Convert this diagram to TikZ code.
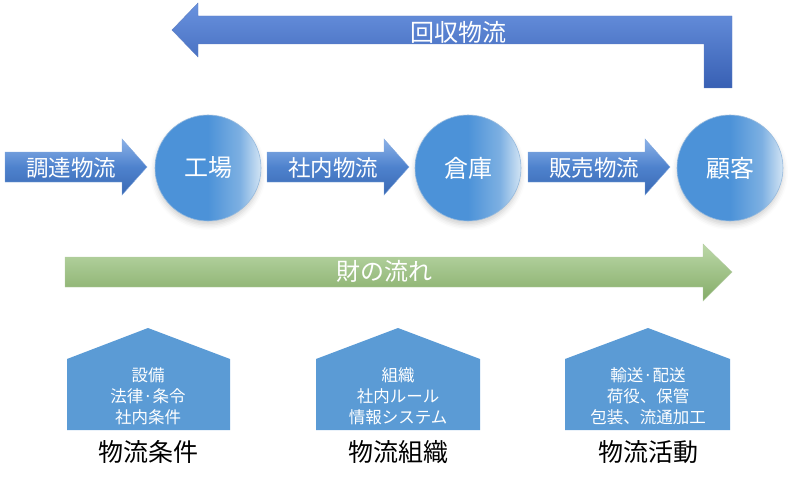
\documentclass[tikz,border=0pt]{standalone}
\usepackage{fontspec}
\setmainfont{Noto Sans CJK JP}
\usetikzlibrary{shadows.blur}
\definecolor{cA}{RGB}{76,146,216}
\definecolor{cB}{RGB}{125,176,226}
\definecolor{cC}{RGB}{210,228,244}
\definecolor{cEdge}{RGB}{150,186,222}
\definecolor{aTop}{RGB}{140,178,232}
\definecolor{aMid}{RGB}{78,130,205}
\definecolor{aBot}{RGB}{58,105,180}
\definecolor{rTop}{RGB}{105,146,222}
\definecolor{rBot}{RGB}{56,96,180}
\definecolor{gTop}{RGB}{188,216,168}
\definecolor{gBot}{RGB}{132,172,104}
\definecolor{house}{RGB}{91,155,213}
\pgfdeclarehorizontalshading{circshade}{100bp}{color(0bp)=(cA); color(25bp)=(cA); color(50bp)=(cA); color(65bp)=(cB); color(75bp)=(cC); color(100bp)=(cC)}
\begin{document}
\begin{tikzpicture}[x=1pt,y=-1pt,
  circ/.style={circle, minimum size=106pt, inner sep=0pt, draw=cEdge, line width=0.6pt,
    shading=circshade, text=white, font=\fontsize{24}{27}\selectfont,
    blur shadow={shadow xshift=0pt, shadow yshift=-4pt, shadow blur radius=5pt, shadow opacity=18}},
  sarrow/.style={top color=aTop, bottom color=aBot, middle color=aMid, draw=aMid!70!white, line width=0.4pt},
  atext/.style={text=white, font=\fontsize{22.5}{25}\selectfont, inner sep=0pt},
  rarrow/.style={top color=rTop, bottom color=rBot, draw=rBot!80!white, line width=0.4pt},
  garrow/.style={top color=gTop, bottom color=gBot, draw=gBot!60!white, line width=0.4pt},
  bigtext/.style={text=white, font=\fontsize{24}{27}\selectfont, inner sep=0pt},
  housebox/.style={fill=house, draw=none},
  housetext/.style={text=white, font=\fontsize{16.5}{21}\selectfont, align=center, inner sep=0pt},
  label/.style={text=black, font=\fontsize{25}{28}\selectfont, inner sep=0pt}]
\useasboundingbox (0,0) rectangle (800,484);
\newcommand\smallarrow[3]{%
  \draw[sarrow] (#1,152) -- ++(117,0) -- ++(0,-13) -- ++(25,28) -- ++(-25,28) -- ++(0,-13) -- ++(-117,0) -- cycle;
  \node[atext] (#2) at (#1+66,168) {#3};}
% return flow arrow
\draw[rarrow] (172,30) -- (198,3) -- (198,16) -- (732,16) -- (732,88) -- (704,88) -- (704,44) -- (198,44) -- (198,57) -- cycle;
\node[bigtext] (kaishu) at (458,32) {回収物流};
% circles
\node[circ] (kojo) at (208,168) {工場};
\node[circ] (soko) at (468,168) {倉庫};
\node[circ] (kokyaku) at (730,168) {顧客};
% small arrows
\smallarrow{5}{chotatsu}{調達物流}
\smallarrow{267}{shanai}{社内物流}
\smallarrow{528}{hanbai}{販売物流}
% green flow
\draw[garrow] (65,257) -- (703,257) -- (703,244) -- (732,272) -- (703,301) -- (703,287) -- (65,287) -- cycle;
\node[bigtext] (zai) at (384,271) {財の流れ};
% houses
\fill[housebox] (67,430) -- (67,359) -- (148,328) -- (230,359) -- (230,430) -- cycle;
\fill[housebox] (316,430) -- (316,359) -- (398,328) -- (480,359) -- (480,430) -- cycle;
\fill[housebox] (565,430) -- (565,359) -- (648,328) -- (730,359) -- (730,430) -- cycle;
\node[housetext] (h1) at (148,396) {設備\\法律·条令\\社内条件};
\node[housetext] (h2) at (398,396) {組織\\社内ルール\\情報システム};
\node[housetext] (h3) at (648,396) {輸送·配送\\荷役、保管\\包装、流通加工};
\node[label] (l1) at (148,452) {物流条件};
\node[label] (l2) at (398,452) {物流組織};
\node[label] (l3) at (648,452) {物流活動};
\end{tikzpicture}
\end{document}
